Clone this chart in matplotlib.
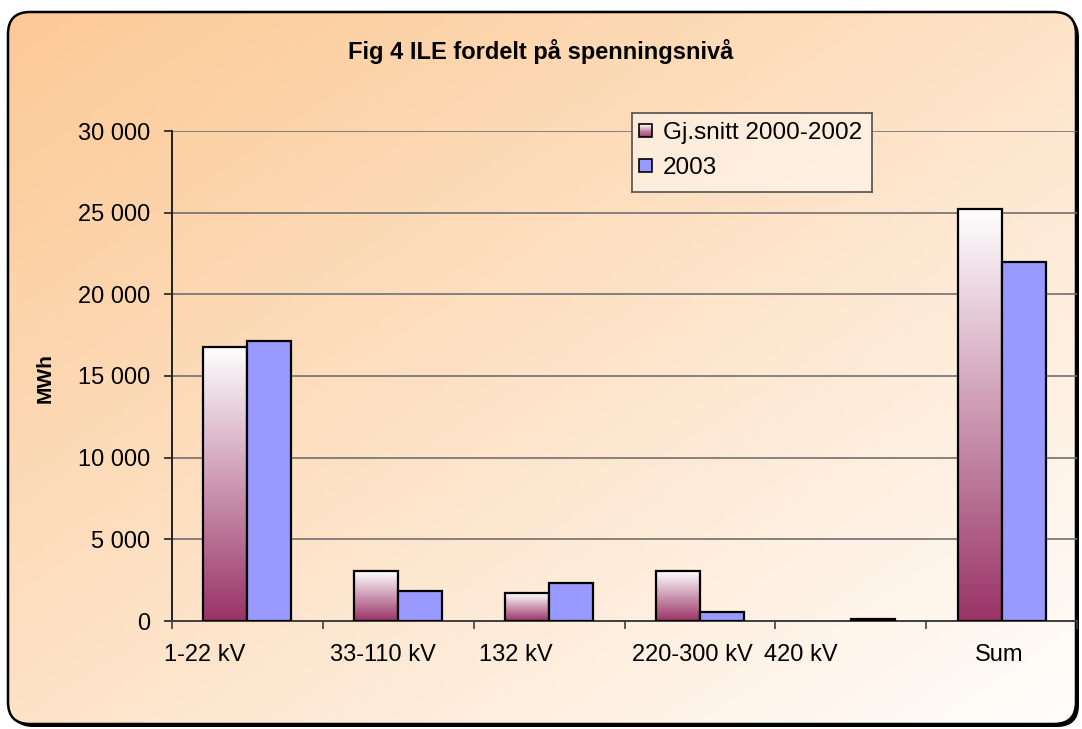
import numpy as np
import matplotlib
matplotlib.use("Agg")
import matplotlib.pyplot as plt
from matplotlib.patches import FancyBboxPatch, Rectangle, Patch
from matplotlib.legend_handler import HandlerBase
from matplotlib.colors import LinearSegmentedColormap, to_rgb

plt.rcParams['font.family'] = ['Liberation Sans', 'DejaVu Sans']

# ---- data ----
categories = ['1-22 kV', '33-110 kV', '132 kV', '220-300 kV', '420 kV', 'Sum']
series_names = ['Gj.snitt 2000-2002', '2003']
avg_2000_2002 = [16800, 3050, 1700, 3050, 0, 25250]
val_2003 = [17150, 1850, 2300, 550, 100, 21950]
yticks = [0, 5000, 10000, 15000, 20000, 25000, 30000]
ytick_labels = ['0', '5 000', '10 000', '15 000', '20 000', '25 000', '30 000']
title = 'Fig 4 ILE fordelt på spenningsnivå'
ylabel = 'MWh'

W, H = 1082, 729
fig = plt.figure(figsize=(W / 100, H / 100), dpi=100)
fig.patch.set_facecolor('white')

orange = np.array(to_rgb('#FCC995'))
white = np.array(to_rgb('#FFFEFD'))

def bg_grad(x0, x1, y0, y1, nx=200, ny=150):
    xs = np.linspace(x0, x1, nx)
    ys = np.linspace(y0, y1, ny)
    X, Y = np.meshgrid(xs, ys)
    t = 0.5 * X / W + 0.5 * Y / H
    t = np.clip(t, 0, 1) ** 1.05
    return orange[None, None, :] * (1 - t[..., None]) + white[None, None, :] * t[..., None]

# ---- background axes ----
bg = fig.add_axes([0, 0, 1, 1], zorder=-2)
bg.set_xlim(0, W)
bg.set_ylim(H, 0)
bg.axis('off')
shadow = FancyBboxPatch((11, 15), 1068, 712, boxstyle='round,pad=0,rounding_size=22',
                        facecolor='black', edgecolor='black', lw=0)
bg.add_patch(shadow)
frame = FancyBboxPatch((8, 12), 1068, 712, boxstyle='round,pad=0,rounding_size=22',
                       facecolor='none', edgecolor='black', lw=1.8, zorder=3)
bg.add_patch(frame)
img = bg.imshow(bg_grad(0, W, 0, H), extent=(0, W, H, 0), aspect='auto', zorder=2)
img.set_clip_path(frame)
bg.set_xlim(0, W)
bg.set_ylim(H, 0)

# ---- main axes ----
L, R, T, B = 172, 1077, 131, 621
ax = fig.add_axes([L / W, 1 - B / H, (R - L) / W, (B - T) / H], zorder=1)
ax.patch.set_alpha(0)
n = len(categories)
x = np.arange(n) + 0.5
bw = 44 / ((R - L) / n)

grad_cmap = LinearSegmentedColormap.from_list('g', ['#993366', '#FFFFFF'])
grad = np.linspace(1, 0, 256)[:, None]

for xi, v in zip(x, avg_2000_2002):
    if v <= 0:
        continue
    x0 = xi - bw
    r = Rectangle((x0, 0), bw, v, facecolor='none', edgecolor='black', lw=1.6, zorder=3)
    ax.add_patch(r)
    im = ax.imshow(grad, cmap=grad_cmap, vmin=0, vmax=1, extent=(x0, x0 + bw, 0, v),
                   aspect='auto', zorder=2, interpolation='bilinear')
    im.set_clip_path(r)

ax.bar(x + bw / 2, val_2003, width=bw, color='#9999FF', edgecolor='black', lw=1.6, zorder=3)

ax.set_xlim(0, n)
ax.set_ylim(0, 30000)
ax.set_aspect('auto')
ax.set_yticks(yticks)
ax.set_yticklabels(ytick_labels, fontsize=17)
ax.yaxis.grid(True, color='#707070', lw=1.2, zorder=0)
ax.set_axisbelow(True)
ax.set_xticks(np.arange(n + 1))
ax.set_xticklabels([])
ax.tick_params(axis='x', which='major', length=6, width=1.2, color='#404040')
ax.tick_params(axis='y', length=6, width=1.2, color='#202020', pad=10)
for s in ['top', 'right']:
    ax.spines[s].set_visible(False)
ax.spines['left'].set_color('#202020')
ax.spines['left'].set_linewidth(1.4)
ax.spines['bottom'].set_color('#404040')
ax.spines['bottom'].set_linewidth(1.4)

# category labels (Excel placed them slightly left of the group centres)
label_shift_px = [-43, -15, -33, -8, -50, -2]
px_per_unit = (R - L) / n
for xi, lab, dx in zip(x, categories, label_shift_px):
    ax.text(xi + dx / px_per_unit, -34 / (B - T) * 30000 * 1.0, lab, ha='center', va='center',
            fontsize=17, clip_on=False)

fig.text(45 / W, 1 - 378 / H, ylabel, rotation=90, ha='center', va='center',
         fontsize=15, fontweight='bold')
fig.text(541 / W, 1 - 52 / H, title, ha='center', va='center', fontsize=17, fontweight='bold')

# ---- legend ----
class GradHandler(HandlerBase):
    def create_artists(self, legend, orig_handle, xdescent, ydescent, width, height, fontsize, trans):
        s = min(width, height)
        x0 = -xdescent + (width - s) / 2
        y0 = -ydescent + (height - s) / 2
        arts = []
        k = 12
        for i in range(k):
            t = i / (k - 1)
            col = np.array(to_rgb('#993366')) * (1 - t) + np.array([1, 1, 1]) * t
            arts.append(Rectangle((x0, y0 + i * s / k), s, s / k + 0.3, facecolor=col,
                                  edgecolor='none', transform=trans))
        arts.append(Rectangle((x0, y0), s, s, facecolor='none', edgecolor='black', lw=1.2,
                              transform=trans))
        return arts

class SquareHandler(HandlerBase):
    def create_artists(self, legend, orig_handle, xdescent, ydescent, width, height, fontsize, trans):
        s = min(width, height)
        x0 = -xdescent + (width - s) / 2
        y0 = -ydescent + (height - s) / 2
        return [Rectangle((x0, y0), s, s, facecolor=orig_handle.get_facecolor(),
                          edgecolor='black', lw=1.2, transform=trans)]

lx0, lx1, ly0, ly1 = 632, 872, 113, 192
lbg = fig.add_axes([lx0 / W, 1 - ly1 / H, (lx1 - lx0) / W, (ly1 - ly0) / H], zorder=2)
lbg.imshow(bg_grad(lx0, lx1, ly0, ly1) * 0.55 + 0.45 * np.ones(3), extent=(0, 1, 0, 1),
           aspect='auto')
lbg.set_xticks([])
lbg.set_yticks([])
for s in lbg.spines.values():
    s.set_color('#505050')
    s.set_linewidth(1.2)

h1 = Patch(facecolor='#993366', label=series_names[0])
h2 = Patch(facecolor='#9999FF', label=series_names[1])
leg = fig.legend(handles=[h1, h2], loc='upper left',
                 bbox_to_anchor=((lx0 + 2) / W, 1 - (ly0 + 4) / H), frameon=False, fontsize=17.5,
                 handlelength=0.55, handleheight=0.55, handletextpad=0.45,
                 borderaxespad=0, borderpad=0.2, labelspacing=0.55,
                 handler_map={h1: GradHandler(), h2: SquareHandler()})
leg.set_zorder(5)

fig.savefig('out.png', dpi=100)
